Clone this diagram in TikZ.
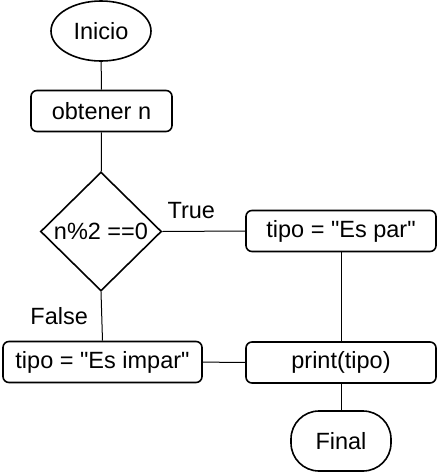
\documentclass[tikz,border=0pt]{standalone}
\usepackage{fontspec}
\setmainfont{Liberation Sans}[Ligatures=TeXOff]
\usetikzlibrary{shapes.geometric}

\begin{document}
\begin{tikzpicture}
[
	x=1pt,y=-1pt,
	font=\fontsize{23.5}{27}\selectfont,
	terminal/.style={ellipse,draw,line width=1.6pt,minimum width=100pt,minimum height=60pt,inner sep=0pt},
	endbox/.style={rectangle,draw,line width=1.6pt,rounded corners=28pt,minimum width=100pt,minimum height=60pt,inner sep=0pt},
	process/.style={rectangle,draw,line width=1.6pt,rounded corners=6pt,minimum height=41pt,inner sep=0pt},
	decision/.style={diamond,draw,line width=1.6pt,minimum width=121pt,minimum height=119pt,inner sep=0pt},
	link/.style={line width=1pt}
]

	\useasboundingbox (0,0) rectangle (437,472);

	% nodes
	\node[terminal] (start) at (101,31) {Inicio};
	\node[process,minimum width=141pt] (read) at (101.5,111) {obtener n};
	\node[decision,label={center:n\%2 ==0}] (check) at (101,231.5) {};
	\node[process,minimum width=190pt] (even) at (341,231) {tipo = "Es par"};
	\node[process,minimum width=199pt] (odd) at (102.5,362) {tipo = "Es impar"};
	\node[process,minimum width=190pt] (show) at (341,362.5) {print(tipo)};
	\node[endbox] (stop) at (341,441) {Final};

	% connectors
	\draw[link] (start) -- (read);
	\draw[link] (read) -- (check);
	\draw[link] (check.east) -- node[pos=0.35,above=9pt] {True} (even.west);
	\draw[link] (check.south) -- node[midway,left=10pt] {False} (odd.north);
	\draw[link] (even) -- (show);
	\draw[link] (odd) -- (show);
	\draw[link] (show) -- (stop);

\end{tikzpicture}
\end{document}
